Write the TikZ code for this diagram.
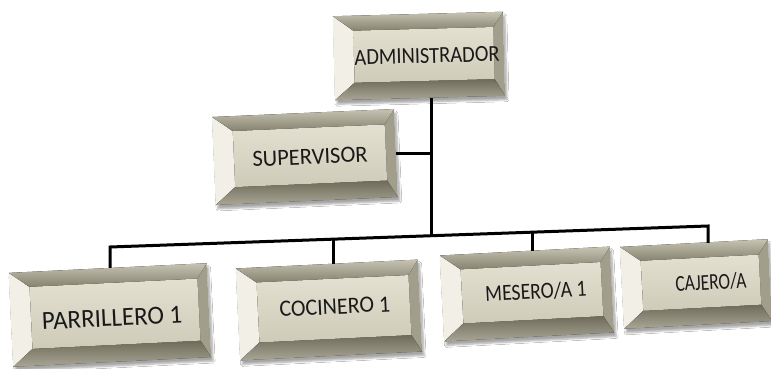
\documentclass[tikz,border=0pt]{standalone}
\usepackage{fontspec}
\setmainfont{Carlito}
\usetikzlibrary{calc,shadows.blur}
\definecolor{faceA}{HTML}{E3E0D1}
\definecolor{faceB}{HTML}{CFCBB9}
\definecolor{bevL}{HTML}{F1EFE6}
\definecolor{bevR}{HTML}{A29E8C}
\definecolor{bevTa}{HTML}{C6C3B3}
\definecolor{bevTb}{HTML}{85826F}
\definecolor{bevBa}{HTML}{6E6B5B}
\definecolor{bevBb}{HTML}{A9A695}
\tikzset{
  boxtext/.style={inner sep=0pt, text=black!90},
  boxframe/.style={inner sep=0pt},
  fs/.style={font=\fontsize{#1}{#1}\selectfont},
  conn/.style={line width=3pt, black, line join=miter},
}
% #1 name, #2 cx, #3 cy, #4 w, #5 h, #6 text, #7 rotation, #8 text options, #9 text offset
\newcommand\bevbox[9]{%
\begin{scope}[shift={(#2,#3)}, rotate=#7]
  \pgfmathsetmacro\W{#4/2}\pgfmathsetmacro\H{#5/2}
  \pgfmathsetmacro\iL{-\W+20}\pgfmathsetmacro\iR{\W-10}
  \pgfmathsetmacro\iT{-\H+15}\pgfmathsetmacro\iB{\H-17}
  \fill[white, blur shadow={shadow xshift=2pt, shadow yshift=-4pt, shadow blur steps=6, shadow opacity=35}] (-\W,-\H) rectangle (\W,\H);
  \fill[bevL] (-\W,-\H) -- (\iL,\iT) -- (\iL,\iB) -- (-\W,\H) -- cycle;
  \fill[bevR] (\W,-\H) -- (\iR,\iT) -- (\iR,\iB) -- (\W,\H) -- cycle;
  \fill[top color=bevTa, bottom color=bevTb] (-\W,-\H) -- (\W,-\H) -- (\iR,\iT) -- (\iL,\iT) -- cycle;
  \fill[top color=bevBa, bottom color=bevBb] (\iL,\iB) -- (\iR,\iB) -- (\W,\H) -- (-\W,\H) -- cycle;
  \fill[top color=faceA, bottom color=faceB] (\iL,\iT) rectangle (\iR,\iB);
  \node[boxframe, transform shape, minimum width=#4pt, minimum height=#5pt] (#1) at (0,0) {};
  \node[boxtext, transform shape, #8] (#1-t) at (#9) {#6};
\end{scope}}
\begin{document}
\begin{tikzpicture}[x=1pt,y=-1pt]
\useasboundingbox[fill=white] (0,0) rectangle (771,369);
\bevbox{adm}{419}{56}{170}{84}{ADMINISTRADOR}{1.5}{fs=20.5, yscale=1.12}{8,0}
\bevbox{sup}{305}{157}{182}{88}{SUPERVISOR}{2.5}{fs=22.5, yscale=1.03}{5,0}
\bevbox{par}{110}{315}{198}{94}{PARRILLERO 1}{2.8}{fs=25, yscale=1.04}{2,3}
\bevbox{coc}{329}{310}{182}{92}{COCINERO 1}{2.8}{fs=22, yscale=1.06}{6,-3}
\bevbox{mes}{527}{294}{170}{86}{MESERO/A 1}{3}{fs=19.7, yscale=1.17}{9,-2}
\bevbox{caj}{696}{284}{148}{82}{CAJERO/A}{3}{fs=17.5, yscale=1.3}{15,-1}
\coordinate (b1) at (110,247);
\coordinate (b2) at (333,239.2);
\coordinate (j)  at (431,235.7);
\coordinate (b3) at (532,232.2);
\coordinate (b4) at (708,226);
\draw[conn] (adm.south -| j) -- (j);
\draw[conn] (sup.east) -- (sup.east -| j);
\draw[conn] (b1 |- par.north) -- (b1) -- (b4) -- (b4 |- caj.north);
\draw[conn] (b2) -- (b2 |- coc.north);
\draw[conn] (b3) -- (b3 |- mes.north);
\end{tikzpicture}
\end{document}
